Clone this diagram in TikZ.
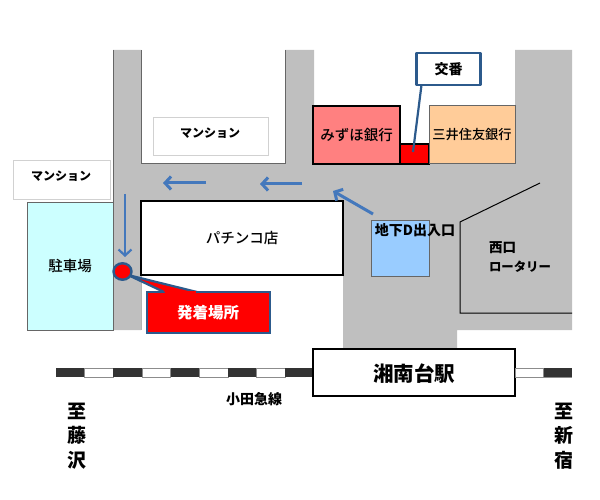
\documentclass[tikz,border=0pt]{standalone}
\usepackage{fontspec}
\setmainfont{Noto Sans CJK JP}
\newfontfamily\medfont{Noto Sans CJK JP Medium}
\usetikzlibrary{arrows.meta,shapes.geometric}
\definecolor{roadgray}{HTML}{BFBFBF}
\definecolor{edgegray}{HTML}{666666}
\definecolor{calloutblue}{HTML}{2C5A8C}
\definecolor{arrowblue}{HTML}{4478BC}
\definecolor{parkcyan}{HTML}{CCFFFF}
\definecolor{mizuho}{HTML}{FF8080}
\definecolor{mitsui}{HTML}{FFCC99}
\definecolor{entrance}{HTML}{99CCFF}
\definecolor{railblack}{HTML}{333333}
\tikzset{
  x=1pt,y=-1pt,
  every node/.style={inner sep=0pt,outer sep=0pt,text=black},
  label14/.style={font=\fontsize{14.5}{17}\selectfont\medfont},
  vertlabel/.style={font=\fontsize{19}{24.5}\selectfont\bfseries,align=center},
  plate/.style={draw=black!18,line width=1pt,fill=white},
  platetext/.style={font=\fontsize{12}{14}\selectfont\bfseries},
  building/.style={draw=black,line width=1.2pt,font=\fontsize{14.5}{17}\selectfont\medfont},
  flow/.style={draw=arrowblue,line width=3pt,-{Straight Barb[length=6pt,width=13pt,line width=3pt]}},
  callout/.style={draw=calloutblue,line width=2.4pt,line join=round},
  railseg/.style={draw=black!45,line width=.5pt},
}
\begin{document}
\begin{tikzpicture}
\useasboundingbox (0,0) rectangle (600,500);
% roads
\fill[roadgray] (113,50) -- (141,50) -- (141,164) -- (285,164) -- (285,50) -- (314,50) -- (314,164) -- (515,164) -- (515,50) -- (572,50) -- (572,330) -- (457,330) -- (457,349) -- (343,349) -- (343,201) -- (141,201) -- (141,330) -- (114,330) -- (114,202) -- (113,202) -- cycle;
\draw[edgegray,line width=1pt] (113,50) -- (113,202) (141,50) -- (141,164) -- (285,164) -- (285,50);
\draw[black!30,line width=.6pt] (141,275) -- (141,330);
% rotary
\draw[black,line width=1pt] (540,183) -- (460,222) -- (460,313) -- (572,313);
% buildings
\node[plate,minimum width=115pt,minimum height=38pt] (mansionA) at (210.5,137) {};
\node[platetext] (mansionAtext) at (210,133.5) {マンション};
\node[plate,minimum width=97pt,minimum height=38pt] (mansionB) at (61.5,180) {};
\node[platetext] (mansionBtext) at (61,176) {マンション};
\node[draw=edgegray,line width=1pt,fill=parkcyan,minimum width=86pt,minimum height=128pt,label14] (park) at (70,266) {駐車場};
\node[building,fill=white,minimum width=202pt,minimum height=74pt] (pachinko) at (242,238) {パチンコ店};
\node[building,fill=mizuho,minimum width=87pt,minimum height=58pt] (mizuho) at (356.5,135) {みずほ銀行};
\node[draw=black,line width=1.2pt,fill=red,minimum width=29pt,minimum height=20pt] (koban) at (414.5,154) {};
\coordinate (kobantip) at (413,152);
\node[draw=edgegray,line width=1pt,fill=mitsui,minimum width=86pt,minimum height=58pt,font=\fontsize{13.2}{17}\selectfont\medfont] (mitsuiB) at (472,135) {三井住友銀行};
\node[draw=edgegray,line width=.8pt,fill=entrance,minimum width=58pt,minimum height=56pt] (ent) at (400,248) {};
\node[font=\fontsize{14}{17}\selectfont\bfseries] (entlabel) at (415,230) {地下D出入口};
\node[font=\fontsize{13.5}{17}\selectfont\bfseries,anchor=west] (nishi) at (489,248) {西口};
\node[font=\fontsize{12.4}{17}\selectfont\bfseries,anchor=west] (rotary) at (489,267) {ロータリー};
% arrows
\coordinate (a1s) at (206,183); \coordinate (a1e) at (163,183);
\coordinate (a2s) at (302,184); \coordinate (a2e) at (260,184);
\coordinate (a3s) at (373,214); \coordinate (a3e) at (333,191);
\coordinate (a4s) at (125,194); \coordinate (a4e) at (125,257);
\draw[flow] (a1s) -- (a1e);
\draw[flow] (a2s) -- (a2e);
\draw[flow] (a3s) -- (a3e);
\draw[draw=arrowblue,line width=2.2pt,-{Straight Barb[length=6pt,width=13pt,line width=2.2pt]}] (a4s) -- (a4e);
% rail
\foreach \i in {0,...,8} {
  \fill[railblack] ({56+57.25*\i},368) rectangle +(28.5,9);
  \fill[white] ({84.5+57.25*\i},368) rectangle +(28.75,9);
  \draw[railseg] ({84.5+57.25*\i},368) rectangle +(28.75,9);
}
\node[draw=black,line width=1.5pt,fill=white,minimum width=202pt,minimum height=47pt] (station) at (414,372.5) {};
\node[font=\fontsize{20.5}{24}\selectfont\bfseries] (stationtext) at (414,374) {湘南台駅};
\fill[white] (515,368) rectangle (572,377);
\draw[railseg] (515,368) rectangle (543,377);
\fill[railblack] (543.5,368) rectangle (572,377);
\node[font=\fontsize{14}{16}\selectfont\bfseries] (line) at (254,399) {小田急線};
\node[vertlabel] (fuji) at (77,436) {至\\藤\\沢};
\node[vertlabel] (shin) at (564,436) {至\\新\\宿};
% callouts
\node[callout,fill=white,minimum width=64pt,minimum height=32pt,font=\fontsize{14}{17}\selectfont\bfseries] (kobanbox) at (448.5,69) {交番};
\draw[callout,line width=2.2pt] (kobanbox.south west) ++(5,0) -- (kobantip);
\node[draw=calloutblue,line width=2pt,fill=red,minimum width=123pt,minimum height=41pt,font=\fontsize{15.5}{18}\selectfont\bfseries,text=white] (hatsu) at (208,312.5) {発着場所};
\filldraw[draw=calloutblue,fill=red,line width=2.2pt,line join=round] (197,292) -- (128,275) -- (164,292);
\fill[red] (164.8,291) rectangle (196,294);
\node[ellipse,draw=calloutblue,line width=2.4pt,fill=red,minimum width=18pt,minimum height=16.5pt] (spot) at (122.5,271.5) {};
\end{tikzpicture}
\end{document}
